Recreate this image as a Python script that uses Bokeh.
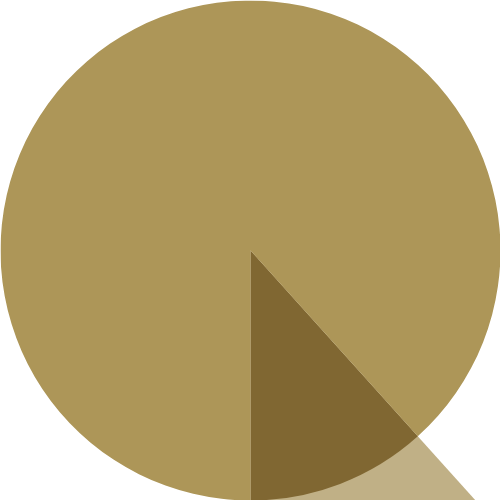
import numpy as np
from bokeh.plotting import figure
from bokeh.models import Range1d
from bokeh.embed import file_html
from bokeh.resources import INLINE

# data
categories = ["Highlighted", "Other"]
shares = [7, 53]
colors = ["#806732", "#ad9658"]
highlight_color = "#c0b086"

total = float(sum(shares))
fracs = np.array(shares) / total
start0 = -np.pi / 2
ends = start0 + 2 * np.pi * np.cumsum(fracs)
starts = np.concatenate([[start0], ends[:-1]])

W = 500
p = figure(width=W, height=W, output_backend="svg", toolbar_location=None,
           min_border=0, outline_line_color=None)
p.x_range = Range1d(-1.0, 1.0)
p.y_range = Range1d(-1.0, 1.0)
p.axis.visible = False
p.grid.visible = False
p.background_fill_color = "white"
p.border_fill_color = "white"

# enlarged highlight wedge behind the pie
p.wedge(x=0, y=0, radius=1.6, start_angle=starts[0], end_angle=ends[0],
        color=highlight_color, line_color=None)

p.wedge(x=0, y=0, radius=1.0, start_angle=list(starts), end_angle=list(ends),
        fill_color=colors, line_color=None)

open("out.html", "w").write(file_html(p, INLINE))
